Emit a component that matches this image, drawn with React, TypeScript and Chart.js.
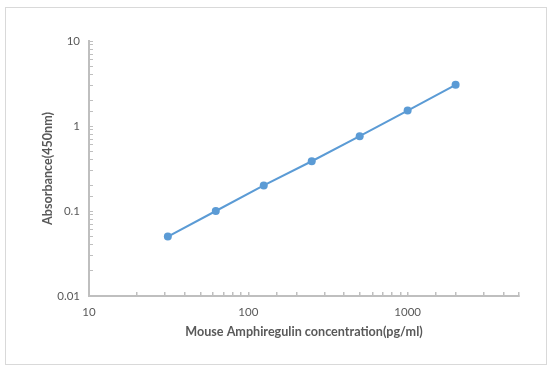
import React, { useEffect, useRef } from "react";
import { Chart, registerables } from "chart.js";

Chart.register(...registerables);

const concentrations = [31.25, 62.5, 125, 250, 500, 1000, 2000];
const absorbance = [0.05, 0.1, 0.2, 0.385, 0.76, 1.52, 3.05];
const xMajorTicks = [10, 100, 1000];
const yMajorTicks = [0.01, 0.1, 1, 10];
const xTitle = "Mouse Amphiregulin concentration(pg/ml)";
const yTitle = "Absorbance(450nm)";

const FONT = "Lato, 'Open Sans', sans-serif";
const TEXT = "#595959";
const AXIS = "#bfbfbf";
const LINE = "#5b9bd5";

const borderPlugin = {
  id: "outerBorder",
  beforeDraw(chart: any) {
    const ctx = chart.ctx;
    ctx.save();
    ctx.fillStyle = "#ffffff";
    ctx.fillRect(0, 0, chart.width, chart.height);
    ctx.strokeStyle = "#d9d9d9";
    ctx.lineWidth = 1;
    ctx.strokeRect(5.5, 7.5, 541, 357);
    ctx.restore();
  },
};

function isMajor(v: number, list: number[]) {
  return list.some((m) => Math.abs(m - v) / m < 1e-6);
}

export default function App() {
  const ref = useRef<HTMLCanvasElement | null>(null);
  useEffect(() => {
    if (!ref.current) return;
    const chart = new Chart(ref.current, {
      type: "line",
      data: {
        datasets: [
          {
            data: concentrations.map((c, i) => ({ x: c, y: absorbance[i] })),
            borderColor: LINE,
            backgroundColor: LINE,
            borderWidth: 2,
            pointRadius: 4,
            pointBorderWidth: 0,
            pointBackgroundColor: LINE,
            tension: 0,
          },
        ],
      },
      options: {
        animation: false,
        responsive: false,
        devicePixelRatio: 1,
        layout: { padding: { left: 40, right: 34, top: 41, bottom: 33 } },
        plugins: { legend: { display: false }, tooltip: { enabled: false } },
        scales: {
          x: {
            type: "logarithmic",
            min: 10,
            max: 5000,
            afterFit: (s: any) => {
              s.height = 43;
            },
            border: { color: AXIS, width: 2 },
            grid: { drawOnChartArea: false, drawTicks: true, tickLength: -4, color: AXIS, lineWidth: 1.5 },
            ticks: {
              autoSkip: false,
              maxRotation: 0,
              padding: 13,
              color: TEXT,
              font: { family: FONT, size: 11.5 },
              callback: (v: any) => (isMajor(Number(v), xMajorTicks) ? String(Number(v)) : ""),
            },
            title: {
              display: true,
              text: xTitle,
              color: TEXT,
              padding: 0,
              font: { family: FONT, size: 12.6, weight: "bold" },
            },
          },
          y: {
            type: "logarithmic",
            min: 0.01,
            max: 10,
            afterFit: (s: any) => {
              s.width = 49;
            },
            border: { color: AXIS, width: 2 },
            grid: { drawOnChartArea: false, drawTicks: true, tickLength: -4, color: AXIS, lineWidth: 1 },
            ticks: {
              autoSkip: false,
              padding: 13,
              color: TEXT,
              font: { family: FONT, size: 11.5 },
              callback: (v: any) => (isMajor(Number(v), yMajorTicks) ? String(Number(v)) : ""),
            },
            title: {
              display: true,
              text: yTitle,
              color: TEXT,
              padding: 0,
              font: { family: FONT, size: 12.6, weight: "bold" },
            },
          },
        },
      },
      plugins: [borderPlugin],
    } as any);
    return () => chart.destroy();
  }, []);
  return (
    <div style={{ position: "fixed", left: 0, top: 0, width: 553, height: 372, background: "#fff" }}>
      <canvas ref={ref} width={553} height={372} />
    </div>
  );
}
